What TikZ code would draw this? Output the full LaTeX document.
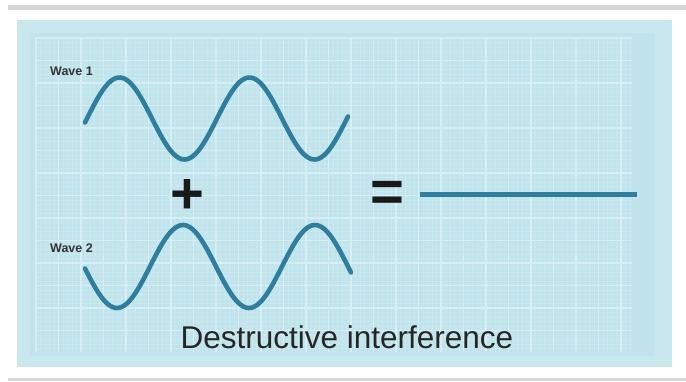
\documentclass[tikz,border=0pt]{standalone}
\usepackage{fontspec}
\setmainfont{Liberation Sans}
\definecolor{panel}{HTML}{C1E4EC}
\definecolor{panelrim}{HTML}{C8E7EE}
\definecolor{gridmin}{HTML}{C8E8EF}
\definecolor{gridmaj}{HTML}{D6EFF5}
\definecolor{wavec}{HTML}{2F7E9E}
\definecolor{frameg}{HTML}{D6D6D4}
\tikzset{
  wave/.style={draw=wavec, line width=4.6pt, line cap=round},
  lbl/.style={inner sep=0pt, text=black!80, font=\fontsize{12.5}{12.5}\selectfont\bfseries},
  sym/.style={inner sep=0pt, text=black!90, font=\fontsize{58}{58}\selectfont\bfseries},
}
\begin{document}
\begin{tikzpicture}[x={(1pt,0)}, y={(0,-1pt)}]
\useasboundingbox (0,0) rectangle (686,381);
\fill[white] (0,0) rectangle (686,381);
% frame
\fill[frameg] (8,5) rectangle (686,10);
\fill[frameg] (8,378) rectangle (686,381);
\fill[panelrim] (17,20) rectangle (672,367);
\fill[panel] (30,33) rectangle (655,356);
% grid
\foreach \gx in {36,40.5,...,632} \draw[gridmin, line width=0.5pt] (\gx,38) -- (\gx,352);
\foreach \gy in {38,42.5,...,352} \draw[gridmin, line width=0.5pt] (36,\gy) -- (632,\gy);
\foreach \gx in {36,58.5,...,632} \draw[gridmaj, line width=1.2pt] (\gx,38) -- (\gx,352);
\foreach \gy in {38,60.5,...,352} \draw[gridmaj, line width=1.2pt] (36,\gy) -- (632,\gy);
% labels
\node[lbl] (w1) at (71.5,71) {Wave 1};
\node[lbl] (w2) at (71.5,248) {Wave 2};
% waves
\draw[wave] plot[domain=85:348, samples=120, smooth] (\x, {118.5 - 41*sin((\x-87)/130*360)});
\draw[wave] plot[domain=85:351, samples=120, smooth] (\x, {266.5 + 41.5*sin((\x-84)/132*360)});
% symbols
\node[sym] (plus) at (187.5,196) {+};
\node[sym] (eq) at (387,196) {=};
\coordinate (r0) at (420,194.5);
\coordinate (r1) at (637,194.5);
\draw[wave, line width=4.5pt, line cap=butt] (r0) -- (r1);
% title
\node[inner sep=0pt, text=black!85, font=\fontsize{31.5}{31.5}\selectfont] (title) at (347,337) {Destructive interference};
\end{tikzpicture}
\end{document}
